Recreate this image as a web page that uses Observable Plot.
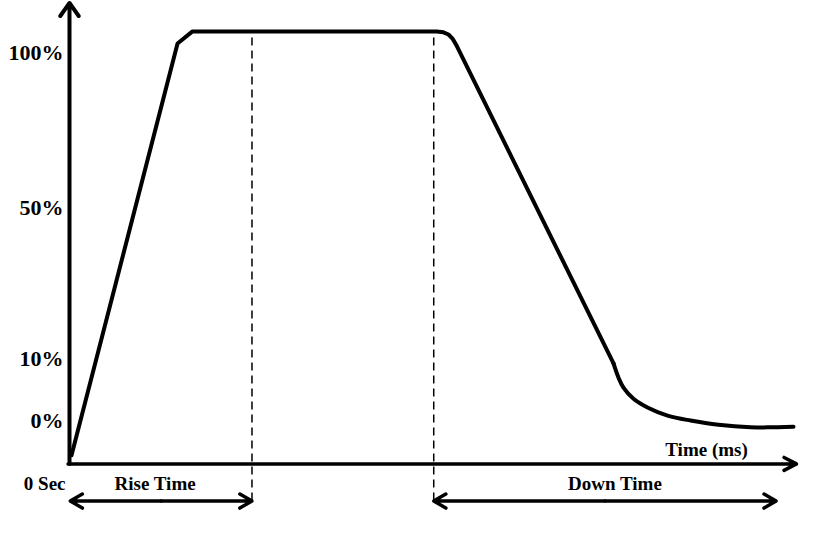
<!DOCTYPE html>
<html>
<head>
<meta charset="utf-8">
<script src="https://cdn.jsdelivr.net/npm/d3@7"></script>
<script src="https://cdn.jsdelivr.net/npm/@observablehq/plot@0.6"></script>
<style>
  html, body { margin: 0; padding: 0; background: #fff; }
  #chart svg { display: block; }
</style>
</head>
<body>
<div id="chart"></div>
<script>
// ---- data ----
// straight part of the response (rise, plateau, fall)
const headTime  = [0.28, 14.86, 16.92, 50.48, 51.44, 52.13, 52.68, 53.23, 74.83];
const headLevel = [-5.6, 102.9, 106.8, 106.8, 106.5, 105.8, 104.5, 102.3, 9.2];
// smooth settling tail
const tailTime  = [74.83, 75.52, 76.2, 77.58, 79.5, 82.26, 85.42, 89.27, 93.67, 96.0, 99.59];
const tailLevel = [9.2, 6.9, 5.3, 3.5, 2.1, 0.8, 0.0, -0.7, -1.1, -1.1, -1.0];

const yTickValues = [0, 10, 50, 100];
const yTickLabels = ["0%", "10%", "50%", "100%"];

const originLabel = "0 Sec";
const xAxisLabel = "Time (ms)";
const spanLabels = ["Rise Time", "Down Time"];
const spanStarts = [0.1, 50.1];
const spanEnds   = [25.1, 97.2];
const dashTops   = [104.8, 106.8];

const axisBase = -7;     // level at which the time axis sits
const axisTop = 116;     // top of the level axis arrow
const timeEnd = 100;     // tip of the time axis arrow
const spanRow = -13;     // level of the span arrows
const labelRow = -10.3;  // level of the span labels

const head = headTime.map((t, i) => ({t, v: headLevel[i]}));
const tail = tailTime.map((t, i) => ({t, v: tailLevel[i]}));
const ticks = yTickValues.map((v, i) => ({v, label: yTickLabels[i]}));
const spans = spanLabels.map((label, i) => ({
  label, start: spanStarts[i], end: spanEnds[i],
  mid: (spanStarts[i] + spanEnds[i]) / 2, top: dashTops[i]
}));
const dashes = [{x: spans[0].end, top: spans[0].top}, {x: spans[1].start, top: spans[1].top}];

const font = "Liberation Serif, Times New Roman, serif";
const txt = {fontWeight: "bold", fill: "#000", fontFamily: font};

const chart = Plot.plot({
  width: 827,
  height: 544,
  marginLeft: 69,
  marginRight: 31,
  marginTop: 0,
  marginBottom: 0,
  style: {background: "#fff", fontFamily: font},
  x: {domain: [0, 100], axis: null},
  y: {type: "linear", domain: [0, 10, 50, 100], range: [420, 358, 207, 52], axis: null},
  marks: [
    // dashed markers
    Plot.ruleX(dashes, {x: "x", y1: spanRow, y2: "top", stroke: "#000", strokeWidth: 1.5, strokeDasharray: "8,5"}),
    // axes
    Plot.arrow([{}], {x1: 0, y1: axisBase, x2: 0, y2: axisTop, stroke: "#000", strokeWidth: 4, headLength: 6, headAngle: 70}),
    Plot.arrow([{}], {x1: -0.2, y1: axisBase, x2: timeEnd, y2: axisBase, stroke: "#000", strokeWidth: 3.5, headLength: 6, headAngle: 55}),
    // span arrows (double-headed)
    Plot.arrow(spans, {x1: "mid", y1: spanRow, x2: "start", y2: spanRow, stroke: "#000", strokeWidth: 3.5, headLength: 6, headAngle: 60}),
    Plot.arrow(spans, {x1: "mid", y1: spanRow, x2: "end", y2: spanRow, stroke: "#000", strokeWidth: 3.5, headLength: 6, headAngle: 60}),
    // response curve
    Plot.line(head, {x: "t", y: "v", stroke: "#000", strokeWidth: 4, strokeLinejoin: "round", strokeLinecap: "round"}),
    Plot.line(tail, {x: "t", y: "v", stroke: "#000", strokeWidth: 4, strokeLinecap: "round", curve: "catmull-rom"}),
    // tick labels
    Plot.text(ticks, {x: 0, y: "v", text: "label", textAnchor: "end", dx: -6, fontSize: 22, ...txt}),
    Plot.text([originLabel], {x: 0, y: labelRow, text: d => d, textAnchor: "end", dx: -4, fontSize: 19, ...txt}),
    Plot.text([spans[0]], {x: "mid", y: labelRow, text: "label", dx: -6, fontSize: 19, ...txt}),
    Plot.text([spans[1]], {x: "mid", y: labelRow, text: "label", dx: 10, fontSize: 19, ...txt}),
    Plot.text([xAxisLabel], {x: 93.3, y: -4.8, text: d => d, textAnchor: "end", fontSize: 19, ...txt})
  ]
});
document.getElementById("chart").appendChild(chart);
</script>
</body>
</html>
